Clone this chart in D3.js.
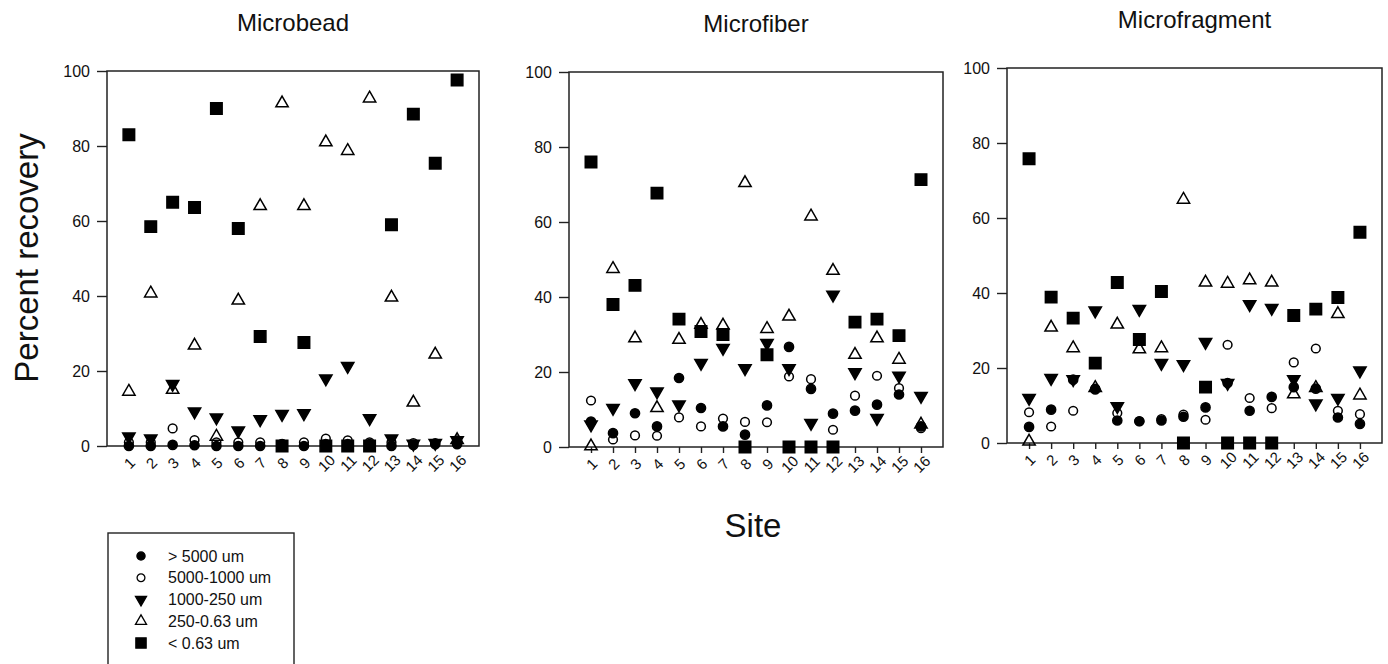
<!DOCTYPE html>
<html>
<head>
<meta charset="utf-8">
<script src="https://cdn.jsdelivr.net/npm/d3@7"></script>
<style>
body { margin: 0; background: #fff; }
svg { display: block; font-family: Arial, "Liberation Sans", sans-serif; }
</style>
</head>
<body>
<svg id="chart" width="1388" height="664"></svg>
<script>
// data (percent recovery per site)
var sites = [1, 2, 3, 4, 5, 6, 7, 8, 9, 10, 11, 12, 13, 14, 15, 16];
var sizeClasses = ["> 5000 um", "5000-1000 um", "1000-250 um", "250-0.63 um", "< 0.63 um"];
var panelTitles = ["Microbead", "Microfiber", "Microfragment"];
var yTicks = [0, 20, 40, 60, 80, 100];

var beadOver5000  = [0, 0, 0.3, 0.2, 0, 0, 0, 0.5, 0, 0.5, 0.5, 0.5, 0, 0.3, 0.5, 0.5];
var bead5000_1000 = [1, 1, 4.7, 1.6, 1, 1, 1, 0.5, 1, 2, 1.5, 1, 1, 0.8, 0.8, 1.5];
var bead1000_250  = [2.5, 2, 16.5, 9.2, 7.6, 4.1, 7.1, 8.5, 8.7, 18, 21.3, 7.4, 2, 0.6, 0.8, 1.5];
var bead250_063   = [14.5, 40.7, 15, 26.8, 2.5, 38.8, 64, 91.4, 64, 81, 78.7, 92.7, 39.6, 11.6, 24.4, 1.6];
var beadUnder063  = [83, 58.5, 65, 63.6, 90, 58, 29.2, 0, 27.6, 0, 0, 0, 59, 88.5, 75.4, 97.6];

var fiberOver5000  = [6.8, 3.7, 9, 5.5, 18.4, 10.4, 5.5, 3.3, 11.1, 26.7, 15.5, 8.9, 9.7, 11.3, 14, 5.5];
var fiber5000_1000 = [12.4, 2, 3.1, 3, 7.9, 5.5, 7.6, 6.7, 6.6, 18.8, 18.1, 4.6, 13.7, 19, 15.7, 5];
var fiber1000_250  = [6, 10.4, 17, 14.8, 11.3, 22.4, 26.4, 21, 27.7, 21, 6.4, 40.6, 19.9, 7.7, 19, 13.6];
var fiber250_063   = [0.2, 47.5, 29, 10.4, 28.6, 32.6, 32.4, 70.4, 31.5, 34.8, 61.5, 47, 24.6, 29, 23.3, 6];
var fiberUnder063  = [76, 38, 43.1, 67.7, 34.1, 30.8, 30, 0, 24.6, 0, 0, 0, 33.3, 34.1, 29.7, 71.3];

var fragOver5000  = [4.3, 8.9, 16.9, 14.3, 6, 5.8, 6, 7, 9.5, 16, 8.6, 12.3, 14.9, 14.5, 6.8, 5.1];
var frag5000_1000 = [8.2, 4.4, 8.6, 14.5, 8, 5.8, 6.4, 7.6, 6.2, 26.2, 12, 9.3, 21.5, 25.2, 8.6, 7.7];
var frag1000_250  = [12, 17.3, 17, 35.3, 9.8, 35.7, 21.3, 21, 26.9, 16, 37, 36, 17, 10.5, 12, 19.3];
var frag250_063   = [0.4, 30.8, 25.3, 14.7, 31.6, 25, 25.3, 64.9, 42.8, 42.5, 43.4, 42.8, 13, 14.7, 34.4, 12.7];
var fragUnder063  = [75.8, 38.9, 33.3, 21.3, 42.8, 27.6, 40.4, 0, 14.9, 0, 0, 0, 34, 35.7, 38.8, 56.2];

var panelSeries = [
    [beadOver5000, bead5000_1000, bead1000_250, bead250_063, beadUnder063],
    [fiberOver5000, fiber5000_1000, fiber1000_250, fiber250_063, fiberUnder063],
    [fragOver5000, frag5000_1000, frag1000_250, frag250_063, fragUnder063]
];

// layout of the three plot frames
var frames = [
    {x0: 107, x1: 479, y0: 71, y1: 446, xTick: 0},
    {x0: 569, x1: 943, y0: 72, y1: 447, xTick: 6},
    {x0: 1007, x1: 1382, y0: 68, y1: 443, xTick: 6}
];

var markers = [
    {type: d3.symbolCircle, size: 66, fill: "#000", rot: 0},
    {type: d3.symbolCircle, size: 60, fill: "none", rot: 0},
    {type: d3.symbolTriangle, size: 66, fill: "#000", rot: 180},
    {type: d3.symbolTriangle, size: 66, fill: "none", rot: 0},
    {type: d3.symbolSquare, size: 132, fill: "#000", rot: 0}
];

var svg = d3.select("#chart");

frames.forEach(function (f, p) {
    var x = d3.scaleLinear().domain([0, 17]).range([f.x0, f.x1]);
    var y = d3.scaleLinear().domain([0, 100]).range([f.y1, f.y0]);
    var g = svg.append("g").classed("panel", true);

    g.append("text")
        .attr("x", (f.x0 + f.x1) / 2)
        .attr("y", f.y0 - 40)
        .attr("text-anchor", "middle")
        .style("font-size", "24px")
        .attr("fill", "#111")
        .text(panelTitles[p]);

    var yAxis = g.append("g")
        .attr("transform", "translate(" + f.x0 + ",0)")
        .call(d3.axisLeft(y).tickValues(yTicks).tickSize(10).tickPadding(7));
    yAxis.select(".domain").remove();
    yAxis.selectAll("text").style("font-size", "16px").attr("fill", "#111")
        .style("font-family", "Arial, 'Liberation Sans', sans-serif");
    yAxis.selectAll("line").attr("stroke", "#222").attr("stroke-width", 1.4);

    var xAxis = g.append("g")
        .attr("transform", "translate(0," + f.y1 + ")")
        .call(d3.axisBottom(x).tickValues(sites).tickSize(f.xTick).tickPadding(0));
    xAxis.select(".domain").remove();
    xAxis.selectAll("line").attr("stroke", "#222").attr("stroke-width", 1.4);
    xAxis.selectAll("text")
        .attr("y", null).attr("dy", null)
        .attr("text-anchor", "middle")
        .attr("dominant-baseline", "central")
        .attr("transform", "translate(0,17) rotate(-45)")
        .style("font-size", "15px")
        .style("font-family", "Arial, 'Liberation Sans', sans-serif")
        .attr("fill", "#111");

    g.append("rect")
        .attr("x", f.x0).attr("y", f.y0)
        .attr("width", f.x1 - f.x0).attr("height", f.y1 - f.y0)
        .attr("fill", "none").attr("stroke", "#222").attr("stroke-width", 1.5);

    panelSeries[p].forEach(function (vals, s) {
        var m = markers[s];
        var sym = d3.symbol().type(m.type).size(m.size);
        g.append("g").classed("series", true)
            .selectAll("path")
            .data(vals)
            .enter()
            .append("path")
            .attr("d", sym)
            .attr("transform", function (d, i) {
                return "translate(" + x(sites[i]) + "," + y(d) + ") rotate(" + m.rot + ")";
            })
            .attr("fill", m.fill)
            .attr("stroke", "#000")
            .attr("stroke-width", 1.5);
    });
});

// shared axis titles
svg.append("text")
    .attr("transform", "translate(38,258) rotate(-90)")
    .attr("text-anchor", "middle")
    .style("font-size", "33px")
    .attr("fill", "#111")
    .text("Percent recovery");

svg.append("text")
    .attr("x", 753).attr("y", 537)
    .attr("text-anchor", "middle")
    .style("font-size", "33px")
    .attr("fill", "#111")
    .text("Site");

// legend
var legend = svg.append("g").classed("legend", true);
legend.append("rect")
    .attr("x", 108).attr("y", 533)
    .attr("width", 186).attr("height", 200)
    .attr("fill", "none").attr("stroke", "#222").attr("stroke-width", 1.4);

var rows = legend.selectAll("g.row")
    .data(sizeClasses)
    .enter()
    .append("g")
    .classed("row", true)
    .attr("transform", function (d, i) { return "translate(0," + (556 + i * 21.75) + ")"; });

rows.append("path")
    .attr("d", function (d, i) { return d3.symbol().type(markers[i].type).size(markers[i].size * 0.8)(); })
    .attr("transform", function (d, i) { return "translate(141,0) rotate(" + markers[i].rot + ")"; })
    .attr("fill", function (d, i) { return markers[i].fill; })
    .attr("stroke", "#000")
    .attr("stroke-width", 1.3);

rows.append("text")
    .attr("x", 168)
    .attr("dominant-baseline", "central")
    .style("font-size", "16px")
    .attr("fill", "#111")
    .text(function (d) { return d; });
</script>
</body>
</html>
